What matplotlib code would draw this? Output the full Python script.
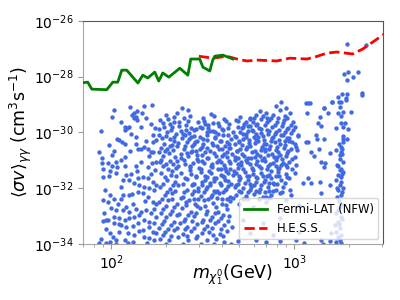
import numpy as np
import matplotlib
matplotlib.use("Agg")
import matplotlib.pyplot as plt
from matplotlib.ticker import FixedLocator, NullFormatter

# ---- limit curves (log10 mass [GeV], log10 <sigma v> [cm^3 s^-1]) ----
fermi_logm = [1.844, 1.871, 1.893, 1.975, 2.008, 2.035, 2.057, 2.084, 2.145, 2.172,
              2.199, 2.237, 2.259, 2.281, 2.314, 2.374, 2.418, 2.434, 2.467, 2.483,
              2.500, 2.538, 2.554, 2.565, 2.609, 2.664]
fermi_logs = [-28.22, -28.20, -28.45, -28.47, -28.20, -28.20, -27.77, -27.77, -28.23, -27.95,
              -28.05, -27.84, -28.16, -27.87, -28.02, -27.70, -27.95, -27.37, -27.37, -27.37,
              -27.66, -27.80, -27.41, -27.27, -27.23, -27.37]

hess_logm = [2.478, 2.554, 2.631, 2.686, 2.740, 2.800, 2.904, 2.975, 3.068, 3.112,
             3.177, 3.232, 3.319, 3.374, 3.429, 3.483, 3.538]
hess_logs = [-27.27, -27.34, -27.27, -27.37, -27.44, -27.41, -27.44, -27.34, -27.37, -27.30,
             -27.16, -27.12, -27.19, -27.01, -26.76, -26.51, -26.26]

# ---- scan points (log10 mass, log10 <sigma v>) grouped by region ----
pts_upper_left = [
    (2.017, -29.18), (2.104, -29.08), (2.181, -29.05), (2.223, -29.02), (2.141, -29.23),
    (2.126, -29.30), (2.114, -29.38), (2.135, -29.44), (2.123, -29.50), (2.168, -29.32),
    (2.141, -29.56), (1.941, -29.94), (2.077, -29.80), (2.095, -29.82), (2.072, -29.92),
    (2.086, -29.86), (2.163, -29.80), (2.217, -29.69), (2.032, -30.24), (2.044, -30.28),
    (2.059, -30.36), (2.072, -30.42), (2.135, -30.18), (2.135, -30.43), (2.163, -30.58),
    (2.181, -30.52), (2.145, -30.58), (2.227, -30.10), (2.245, -30.28), (2.230, -30.34),
    (2.199, -30.58), (2.217, -30.69), (2.230, -30.69), (1.931, -30.72), (2.017, -30.66),
    (2.004, -30.81), (1.950, -30.93), (2.072, -30.87), (2.026, -31.05), (1.950, -31.09),
    (1.981, -31.09), (2.004, -31.20), (2.032, -31.23), (2.072, -31.21), (2.135, -31.21),
    (2.199, -31.23), (2.223, -31.11), (2.245, -31.05), (1.953, -31.32),
]

pts_left_extra = [
    (2.002, -29.45), (2.055, -29.62), (2.188, -29.50), (2.240, -29.85), (2.110, -30.05),
    (2.190, -30.30), (1.985, -30.45), (2.100, -30.65), (2.205, -30.85), (2.050, -31.00),
    (2.160, -31.05), (1.990, -31.40), (2.138, -31.40), (2.240, -31.35), (2.050, -31.95),
    (1.965, -32.05), (2.185, -32.45), (2.115, -32.20), (2.000, -32.70), (2.245, -33.05),
    (2.150, -33.52), (2.040, -33.30), (1.972, -33.45), (2.090, -33.95), (2.195, -33.95),
]

pts_upper_mid = [
    (2.387, -29.12), (2.418, -29.18), (2.300, -29.36), (2.345, -29.44), (2.341, -29.62),
    (2.432, -29.40), (2.545, -29.34), (2.618, -29.52), (2.627, -29.60), (2.554, -29.68),
    (2.509, -29.71), (2.487, -29.80), (2.463, -29.89), (2.436, -29.83), (2.409, -29.74),
    (2.372, -29.64), (2.318, -29.71), (2.290, -29.80), (2.263, -29.89), (2.306, -29.98),
    (2.327, -29.92), (2.351, -30.05), (2.381, -29.95), (2.404, -30.09), (2.427, -30.02),
    (2.450, -30.12), (2.482, -30.16), (2.527, -29.86), (2.541, -29.95), (2.566, -29.99),
    (2.582, -30.04), (2.609, -29.92), (2.636, -30.10), (2.276, -30.20), (2.322, -30.25),
    (2.345, -30.30), (2.384, -30.19), (2.414, -30.36), (2.449, -30.40), (2.470, -30.31),
    (2.503, -30.24), (2.523, -30.29), (2.566, -30.21), (2.597, -30.30), (2.631, -30.36),
    (2.654, -30.22), (2.269, -30.55), (2.303, -30.60), (2.330, -30.45), (2.360, -30.50),
    (2.397, -30.61), (2.440, -30.47), (2.460, -30.66), (2.494, -30.53), (2.524, -30.57),
    (2.557, -30.44), (2.588, -30.60), (2.621, -30.48), (2.645, -30.56), (2.284, -30.83),
    (2.315, -30.74), (2.349, -30.89), (2.378, -30.78), (2.421, -30.86), (2.433, -30.72),
    (2.466, -30.95), (2.497, -30.80), (2.530, -30.90), (2.560, -30.73), (2.603, -30.83),
    (2.633, -30.88), (2.657, -30.76), (2.266, -31.06), (2.297, -31.12), (2.339, -31.15),
    (2.359, -31.04), (2.403, -31.13), (2.432, -31.19), (2.475, -31.03), (2.506, -31.10),
    (2.548, -31.24), (2.579, -31.06), (2.615, -31.18), (2.648, -31.10), (2.651, -31.30),
    (2.309, -31.32), (2.354, -31.28), (2.491, -31.30), (2.600, -31.33),
]

pts_mid_extra = [
    (2.268, -29.55), (2.312, -29.52), (2.358, -29.30), (2.395, -29.48), (2.421, -29.58),
    (2.281, -29.68), (2.334, -29.80), (2.371, -29.76), (2.410, -29.92), (2.262, -30.08),
    (2.297, -30.12), (2.344, -30.15), (2.391, -30.06), (2.425, -30.22), (2.286, -30.40),
    (2.318, -30.48), (2.362, -30.38), (2.404, -30.50), (2.258, -30.70), (2.294, -30.68),
    (2.338, -30.62), (2.381, -30.92), (2.412, -30.74), (2.273, -30.98), (2.321, -31.02),
    (2.366, -31.20), (2.395, -31.00), (2.428, -31.25), (2.283, -31.22), (2.334, -31.38),
    (2.505, -29.60), (2.590, -29.78), (2.640, -29.85), (2.520, -30.00), (2.580, -30.48),
    (2.630, -30.70), (2.510, -30.72), (2.590, -30.98), (2.545, -31.20), (2.625, -31.40),
]

pts_upper_dense = [
    (2.928, -28.90), (2.901, -29.05), (2.919, -29.20), (2.955, -29.12), (2.977, -29.32),
    (2.882, -29.38), (2.846, -29.32), (2.810, -29.22), (2.791, -29.38), (2.755, -29.48),
    (2.773, -29.62), (2.819, -29.52), (2.864, -29.56), (2.910, -29.50), (2.946, -29.56),
    (2.992, -29.62), (2.737, -29.62), (2.719, -29.80), (2.758, -29.78), (2.788, -29.75),
    (2.840, -29.73), (2.879, -29.82), (2.931, -29.77), (2.961, -29.87), (3.001, -29.80),
    (2.703, -29.97), (2.734, -30.05), (2.776, -29.94), (2.816, -30.01), (2.858, -30.05),
    (2.898, -29.97), (2.940, -30.08), (2.980, -30.03), (3.019, -30.10), (2.682, -30.16),
    (2.722, -30.23), (2.752, -30.27), (2.804, -30.18), (2.834, -30.29), (2.876, -30.21),
    (2.916, -30.29), (2.958, -30.21), (2.989, -30.35), (2.673, -30.41), (2.713, -30.45),
    (2.743, -30.53), (2.785, -30.39), (2.825, -30.51), (2.867, -30.47), (2.907, -30.53),
    (2.949, -30.45), (2.980, -30.59), (3.016, -30.63), (2.685, -30.68), (2.716, -30.76),
    (2.767, -30.70), (2.798, -30.78), (2.840, -30.68), (2.879, -30.76), (2.922, -30.82),
    (2.961, -30.74), (3.004, -30.88), (2.676, -30.98), (2.707, -31.06), (2.749, -30.92),
    (2.794, -31.04), (2.825, -30.98), (2.867, -31.12), (2.898, -30.98), (2.940, -31.10),
    (2.970, -31.06), (3.010, -31.17), (2.694, -31.28), (2.770, -31.26), (2.849, -31.31),
    (2.916, -31.28), (2.986, -31.33), (3.064, -28.96), (3.068, -29.32), (3.064, -30.34),
]

pts_core_extra = [
    (2.502, -29.47), (2.561, -29.41), (2.703, -29.44), (2.757, -29.52), (2.828, -29.43),
    (2.872, -29.48), (2.948, -29.40), (2.471, -29.62), (2.528, -29.74), (2.583, -29.66),
    (2.641, -29.71), (2.692, -29.60), (2.748, -29.77), (2.797, -29.69), (2.853, -29.63),
    (2.894, -29.75), (2.938, -29.67), (2.979, -29.72), (2.452, -29.93), (2.494, -29.86),
    (2.553, -29.95), (2.604, -29.88), (2.662, -29.97), (2.713, -29.85), (2.771, -29.92),
    (2.818, -29.87), (2.862, -29.96), (2.917, -29.90), (2.963, -29.84), (2.433, -30.16),
    (2.521, -30.09), (2.568, -30.18), (2.612, -30.11), (2.674, -30.14), (2.718, -30.07),
    (2.782, -30.17), (2.827, -30.12), (2.884, -30.15), (2.928, -30.09), (2.972, -30.19),
    (3.021, -30.13), (2.458, -30.33), (2.503, -30.41), (2.548, -30.37), (2.593, -30.31),
    (2.644, -30.42), (2.697, -30.35), (2.752, -30.39), (2.803, -30.32), (2.846, -30.43),
    (2.893, -30.36), (2.951, -30.30), (3.004, -30.40), (2.441, -30.65), (2.484, -30.58),
    (2.537, -30.67), (2.604, -30.61), (2.648, -30.56), (2.688, -30.66), (2.733, -30.60),
    (2.784, -30.68), (2.838, -30.59), (2.897, -30.64), (2.943, -30.57), (2.469, -30.82),
    (2.523, -30.91), (2.572, -30.85), (2.618, -30.79), (2.673, -30.88), (2.724, -30.83),
    (2.762, -30.92), (2.813, -30.86), (2.858, -30.80), (2.906, -30.89), (2.957, -30.84),
    (2.447, -31.11), (2.498, -31.04), (2.552, -31.13), (2.597, -31.07), (2.641, -31.02),
    (2.693, -31.12), (2.741, -31.06), (2.788, -31.14), (2.842, -31.03), (2.881, -31.10),
    (2.927, -31.16), (2.432, -31.36), (2.478, -31.28), (2.534, -31.38), (2.581, -31.31),
    (2.619, -31.26), (2.671, -31.37), (2.717, -31.30), (2.774, -31.35), (2.818, -31.27),
    (2.872, -31.39), (2.908, -31.32), (2.961, -31.25), (2.463, -31.61), (2.514, -31.55),
    (2.559, -31.63), (2.608, -31.57), (2.663, -31.52), (2.701, -31.62), (2.752, -31.56),
    (2.798, -31.64), (2.853, -31.58), (2.897, -31.55), (2.444, -31.85), (2.493, -31.79),
    (2.541, -31.88), (2.592, -31.81), (2.638, -31.76), (2.682, -31.87), (2.731, -31.83),
    (2.779, -31.89), (2.834, -31.78), (2.886, -31.85), (2.471, -32.11), (2.516, -32.04),
    (2.568, -32.13), (2.621, -32.06), (2.707, -32.12), (2.758, -32.05), (2.806, -32.14),
    (2.861, -32.09), (2.452, -32.38), (2.547, -32.31), (2.603, -32.40), (2.662, -32.34),
    (2.741, -32.37), (2.843, -32.33),
]

pts_core_fill = [
    (2.680, -29.55), (2.725, -29.70), (2.778, -29.48), (2.808, -29.83), (2.850, -29.50),
    (2.905, -29.62), (2.960, -29.50), (2.690, -29.82), (2.745, -29.95), (2.793, -30.05),
    (2.848, -29.90), (2.892, -30.05), (2.950, -30.00), (2.995, -29.92), (2.700, -30.30),
    (2.737, -30.18), (2.790, -30.28), (2.835, -30.42), (2.870, -30.30), (2.920, -30.42),
    (2.968, -30.30), (2.705, -30.58), (2.760, -30.50), (2.815, -30.62), (2.860, -30.58),
    (2.910, -30.70), (2.965, -30.65), (3.008, -30.52), (2.693, -30.90), (2.738, -30.98),
    (2.785, -30.88), (2.832, -30.92), (2.888, -30.88), (2.930, -30.95), (2.985, -30.95),
    (2.710, -31.18), (2.760, -31.15), (2.806, -31.22), (2.858, -31.20), (2.900, -31.22),
    (2.955, -31.18),
]

pts_upper_right = [
    (3.083, -28.96), (3.205, -28.90), (3.241, -28.72), (3.283, -28.78), (3.256, -28.90),
    (3.161, -29.12), (3.247, -29.08), (3.183, -29.32), (3.238, -29.30), (3.265, -29.28),
    (3.311, -29.28), (3.256, -29.40), (3.138, -29.46), (3.129, -29.65), (3.143, -29.76),
    (3.229, -29.83), (3.256, -29.68), (3.274, -29.68), (3.265, -29.80), (3.292, -29.89),
    (3.120, -30.10), (3.125, -30.22), (3.161, -30.24), (3.265, -30.12), (3.289, -30.22),
    (3.265, -30.34), (3.256, -30.52), (3.074, -30.34), (3.132, -30.60), (3.229, -30.64),
    (3.256, -30.69), (3.252, -30.81), (3.261, -30.78), (3.192, -30.75), (3.092, -30.72),
    (3.110, -30.85), (3.147, -31.05), (3.165, -31.11), (3.161, -31.23), (3.234, -31.17),
    (3.256, -31.32), (3.369, -28.66),
]

pts_top_right = [
    (3.290, -26.84), (3.394, -26.87), (3.272, -27.91), (3.294, -27.83), (3.318, -28.01),
    (3.348, -27.83), (3.285, -28.13), (3.370, -28.60), (3.263, -28.64), (3.290, -28.63),
    (3.245, -28.90), (3.281, -28.84), (3.075, -28.96), (3.203, -28.90), (3.161, -29.12),
]

pts_lower_left = [
    (1.953, -31.59), (1.986, -31.57), (2.026, -31.47), (2.081, -31.53), (2.108, -31.49),
    (2.144, -31.65), (2.172, -31.59), (2.199, -31.65), (2.217, -31.49), (2.226, -31.77),
    (2.244, -31.89), (2.126, -31.83), (2.099, -31.71), (2.062, -31.71), (2.153, -31.89),
    (2.181, -31.95), (2.208, -32.01), (2.235, -32.07), (1.990, -32.25), (2.017, -32.37),
    (1.981, -32.49), (2.053, -32.37), (2.062, -32.25), (2.099, -32.25), (2.144, -32.13),
    (2.172, -32.19), (2.199, -32.31), (2.226, -32.49), (2.244, -32.55), (2.117, -32.55),
    (2.081, -32.67), (2.035, -32.55), (2.026, -32.79), (2.062, -32.79), (2.099, -32.85),
    (2.135, -32.73), (2.163, -32.85), (2.190, -32.79), (2.217, -32.90), (2.235, -32.73),
    (1.962, -32.88), (2.017, -33.02), (2.044, -33.08), (2.072, -33.14), (2.099, -33.08),
    (2.126, -33.02), (2.153, -32.96), (2.181, -33.14), (2.208, -33.20), (2.235, -33.24),
    (1.953, -33.17), (1.981, -33.14), (2.017, -33.26), (2.053, -33.32), (2.081, -33.38),
    (2.117, -33.36), (2.144, -33.26), (2.172, -33.50), (2.208, -33.38), (2.226, -33.56),
    (2.244, -33.62), (1.990, -33.62), (2.044, -33.56), (2.090, -33.62), (2.126, -33.68),
    (2.181, -33.74), (2.208, -33.80), (2.008, -33.74), (2.235, -33.86), (1.990, -33.92),
    (2.026, -33.86), (2.072, -33.86), (2.117, -33.92), (1.935, -33.98), (1.971, -33.98),
    (2.026, -34.00), (1.946, -33.82), (1.953, -32.43), (1.970, -33.15),
]

pts_lower_mid = [
    (2.272, -31.47), (2.327, -31.53), (2.381, -31.45), (2.436, -31.49), (2.491, -31.41),
    (2.545, -31.47), (2.600, -31.53), (2.636, -31.45), (2.303, -31.70), (2.350, -31.78),
    (2.412, -31.67), (2.451, -31.84), (2.513, -31.72), (2.560, -31.76), (2.621, -31.69),
    (2.654, -31.85), (2.268, -31.96), (2.321, -32.02), (2.366, -31.90), (2.415, -32.08),
    (2.476, -32.00), (2.523, -31.94), (2.576, -32.09), (2.624, -32.02), (2.294, -32.24),
    (2.333, -32.18), (2.394, -32.33), (2.439, -32.20), (2.488, -32.29), (2.549, -32.24),
    (2.588, -32.17), (2.648, -32.32), (2.260, -32.50), (2.312, -32.42), (2.360, -32.56),
    (2.406, -32.48), (2.458, -32.57), (2.506, -32.44), (2.557, -32.53), (2.606, -32.56),
    (2.651, -32.47), (2.284, -32.74), (2.330, -32.80), (2.385, -32.71), (2.433, -32.86),
    (2.485, -32.72), (2.524, -32.80), (2.585, -32.86), (2.630, -32.75), (2.297, -33.03),
    (2.357, -32.95), (2.403, -33.09), (2.451, -33.01), (2.503, -33.13), (2.548, -33.03),
    (2.597, -33.07), (2.642, -33.01), (2.275, -33.27), (2.324, -33.33), (2.375, -33.25),
    (2.415, -33.39), (2.469, -33.28), (2.521, -33.37), (2.566, -33.25), (2.615, -33.33),
    (2.657, -33.39), (2.293, -33.57), (2.342, -33.49), (2.394, -33.63), (2.433, -33.55),
    (2.494, -33.61), (2.533, -33.57), (2.594, -33.63), (2.633, -33.55), (2.266, -33.81),
    (2.315, -33.85), (2.366, -33.75), (2.421, -33.87), (2.460, -33.79), (2.521, -33.85),
    (2.570, -33.81), (2.618, -33.92), (2.300, -34.00), (2.391, -33.99), (2.491, -34.00),
    (2.563, -33.99), (2.654, -34.00),
]

pts_lower_mid_extra = [
    (2.295, -31.61), (2.355, -31.58), (2.405, -31.63), (2.462, -31.57), (2.521, -31.60),
    (2.573, -31.62), (2.615, -31.59), (2.283, -31.86), (2.338, -31.89), (2.390, -31.84),
    (2.440, -31.90), (2.495, -31.87), (2.540, -31.83), (2.597, -31.88), (2.640, -31.91),
    (2.305, -32.13), (2.350, -32.10), (2.398, -32.15), (2.450, -32.11), (2.505, -32.14),
    (2.560, -32.09), (2.610, -32.13), (2.275, -32.37), (2.330, -32.40), (2.380, -32.36),
    (2.425, -32.41), (2.475, -32.37), (2.530, -32.39), (2.578, -32.35), (2.630, -32.40),
    (2.300, -32.63), (2.345, -32.66), (2.408, -32.62), (2.468, -32.65), (2.512, -32.63),
    (2.570, -32.67), (2.625, -32.61), (2.270, -32.90), (2.318, -32.94), (2.370, -32.91),
    (2.420, -32.95), (2.462, -32.89), (2.515, -32.93), (2.565, -32.90), (2.612, -32.96),
    (2.290, -33.17), (2.340, -33.20), (2.395, -33.16), (2.440, -33.19), (2.495, -33.21),
    (2.540, -33.15), (2.585, -33.19), (2.640, -33.17), (2.263, -33.43), (2.310, -33.46),
    (2.360, -33.42), (2.405, -33.45), (2.452, -33.41), (2.505, -33.47), (2.550, -33.43),
    (2.600, -33.45), (2.280, -33.69), (2.328, -33.72), (2.415, -33.70), (2.470, -33.73),
    (2.555, -33.69), (2.610, -33.72),
]

pts_lower_right = [
    (2.682, -31.47), (2.728, -31.41), (2.773, -31.49), (2.819, -31.45), (2.864, -31.53),
    (2.910, -31.41), (2.955, -31.49), (3.001, -31.45), (3.046, -31.83), (2.700, -31.71),
    (2.746, -31.69), (2.791, -31.77), (2.837, -31.71), (2.882, -31.80), (2.928, -31.71),
    (2.973, -31.65), (2.673, -31.95), (2.719, -32.01), (2.764, -31.95), (2.810, -32.04),
    (2.855, -31.97), (2.901, -32.07), (2.937, -31.95), (2.682, -32.25), (2.737, -32.28),
    (2.782, -32.21), (2.828, -32.31), (2.873, -32.25), (2.919, -32.19), (2.983, -32.25),
    (2.700, -32.55), (2.773, -32.67), (2.846, -32.49), (2.937, -32.79), (3.028, -32.61),
    (2.719, -33.14), (2.828, -33.26), (2.919, -33.08), (2.992, -33.38), (2.755, -33.62),
    (2.882, -33.68), (3.028, -33.56), (2.691, -33.89), (2.791, -33.86), (2.846, -33.92),
    (2.919, -33.89), (3.010, -33.86), (3.055, -33.98),
]

pts_lower_right_extra = [
    (2.695, -31.58), (2.740, -31.55), (2.788, -31.60), (2.830, -31.57), (2.872, -31.62),
    (2.918, -31.56), (2.960, -31.59), (2.690, -31.84), (2.760, -31.86), (2.815, -31.88),
    (2.860, -31.83), (2.905, -31.86), (2.950, -31.82), (2.700, -32.10), (2.745, -32.14),
    (2.790, -32.11), (2.840, -32.13), (2.885, -32.09), (2.930, -32.12), (2.975, -32.08),
    (2.720, -32.38), (2.805, -32.40), (2.860, -32.36), (2.955, -32.41),
]

pts_band_2tev = [
    (3.247, -31.35), (3.265, -31.41), (3.238, -31.53), (3.256, -31.59), (3.229, -31.71),
    (3.256, -31.77), (3.247, -31.89), (3.265, -32.01), (3.238, -32.07), (3.138, -31.77),
    (3.192, -31.89), (3.147, -32.19), (3.092, -31.83), (3.074, -31.65), (3.256, -32.25),
    (3.234, -32.31), (3.247, -32.67), (3.229, -32.90), (3.256, -33.02), (3.238, -33.20),
    (3.220, -33.32), (3.247, -33.44), (3.229, -33.56), (3.256, -33.68), (3.201, -33.62),
    (3.147, -33.86), (3.192, -33.89), (3.229, -33.92), (3.247, -33.86), (3.256, -33.98),
    (3.156, -34.00), (3.245, -30.42), (3.262, -30.58), (3.250, -30.95), (3.268, -31.05),
    (3.240, -31.22), (3.258, -31.48), (3.232, -31.98), (3.262, -32.15), (3.242, -32.45),
    (3.255, -32.55), (3.237, -32.78), (3.262, -33.12), (3.245, -33.28), (3.236, -33.75),
    (3.268, -30.25),
]

groups = [pts_upper_left, pts_left_extra, pts_upper_mid, pts_mid_extra, pts_upper_dense,
          pts_core_extra, pts_core_fill, pts_upper_right, pts_top_right, pts_lower_left,
          pts_lower_mid, pts_lower_mid_extra, pts_lower_right, pts_lower_right_extra,
          pts_band_2tev]
scan = np.array([p for g in groups for p in g])
scan_m = 10.0 ** scan[:, 0]
scan_s = 10.0 ** scan[:, 1]

fig = plt.figure(figsize=(4, 3), dpi=100)
ax = fig.add_axes([0.2075, 0.1867, 0.75, 0.744])

ax.scatter(scan_m, scan_s, s=10, color='#4169e1', linewidths=0, zorder=1)
ax.plot(10.0 ** np.array(fermi_logm), 10.0 ** np.array(fermi_logs), color='green', lw=2.0,
        label='Fermi-LAT (NFW)', zorder=3)
ax.plot(10.0 ** np.array(hess_logm), 10.0 ** np.array(hess_logs), color='red', lw=2.0,
        ls='--', label='H.E.S.S.', zorder=2)

ax.set_xscale('log')
ax.set_yscale('log')
ax.set_xlim(70, 3050)
ax.set_ylim(1e-34, 1e-26)
ax.yaxis.set_major_locator(FixedLocator([1e-34, 1e-32, 1e-30, 1e-28, 1e-26]))
ax.yaxis.set_minor_locator(FixedLocator([]))
ax.yaxis.set_minor_formatter(NullFormatter())

ax.set_xlabel(r'$m_{\chi_1^0}(\mathrm{GeV})$', fontsize=12.5)
ax.set_ylabel(r'$\langle\sigma v\rangle_{\gamma\gamma}\ (\mathrm{cm^3s^{-1}})$', fontsize=12.5)
ax.xaxis.set_label_coords(0.5, -0.085)
ax.yaxis.set_label_coords(-0.165, 0.5)
ax.tick_params(axis='both', which='major', labelsize=10, color='#999999')
ax.tick_params(axis='both', which='minor', color='#999999')

for side in ['left', 'bottom']:
    ax.spines[side].set_color('#a6a6a6')
for side in ['top', 'right']:
    ax.spines[side].set_color('#555555')

ax.legend(loc='lower right', fontsize=8.4, framealpha=0.8, borderaxespad=0.4)

fig.savefig('out.png', dpi=100)
